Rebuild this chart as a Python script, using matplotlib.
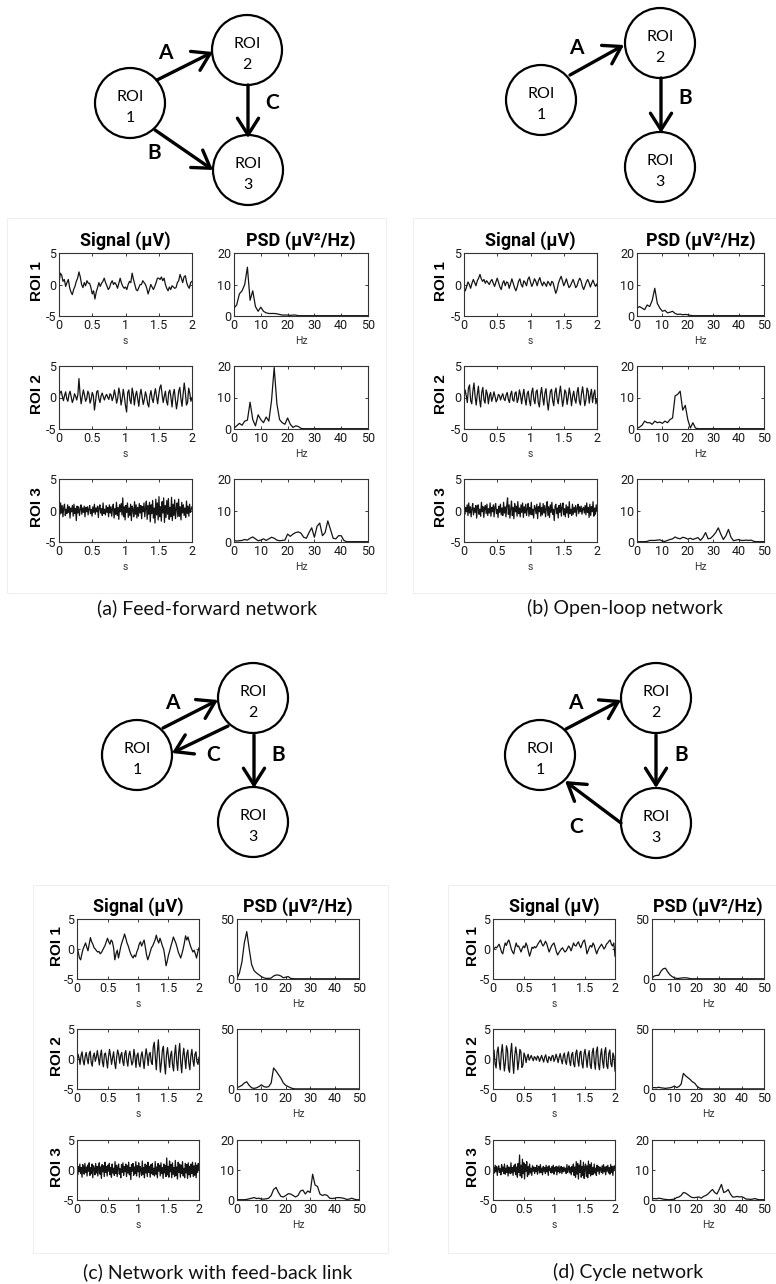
import numpy as np
import matplotlib.pyplot as plt
from matplotlib import font_manager
from matplotlib.patches import Circle, Rectangle

plt.rcParams['axes.unicode_minus'] = False

W, H = 776, 1284
installed = {f.name for f in font_manager.fontManager.ttflist}
narrow_face = 'Liberation Sans Narrow' if 'Liberation Sans Narrow' in installed else 'Roboto'
NARROW = [narrow_face, 'DejaVu Sans']
ARIAL = ['Liberation Sans', 'DejaVu Sans']
CAL = ['Lato', 'DejaVu Sans']

# ---------------------------------------------------------------- signals (uV)
a_sig1 = [0.2, 1.8, 1.5, 0.5, 0.8, -0.3, 0.3, 0.8, -0.5, -1.2, -1.6, -0.8, -0.3, 0.5, 1.0, 2.0, 1.2, 0.0, -0.5, 0.3,
          -0.2, 0.6, 0.2, 0.2, -0.5, -1.5, -1.0, -2.3, -1.2, -0.5, 0.3, -0.3, 0.2, 0.5, 1.0, 0.3, -0.2, -0.8, -0.5, 0.2,
          0.6, 0.0, 0.3, 0.0, -0.6, 0.2, 1.0, 0.2, -0.3, -0.6, -0.4, -0.8, 0.0, 0.5, 0.3, 1.8, 0.8, 0.0, -0.8, -1.0,
          -0.5, 0.0, 0.0, 0.6, 0.3, 0.0, -0.6, -1.5, -0.8, 0.0, -0.4, -0.8, -0.3, 0.3, 1.0, 1.0, 0.8, 1.2, 0.6, 1.0,
          0.0, -0.6, -1.0, -0.4, -0.8, -0.2, -0.4, -0.6, -0.5, 0.3, 0.6, 1.6, 1.0, 0.3, 1.2, 1.4, 0.3, -0.3, -0.6, 0.3, 0.5]
a_sig2 = [0.0, 0.8, 1.0, 0.2, -0.5, 0.3, 0.9, -0.2, -0.6, 0.5, 1.0, 0.1, -0.8, -0.3, 0.6, 0.2, -0.4, 0.4, 3.0, 0.5,
          -1.0, 0.2, 1.2, 0.4, -0.6, -0.2, 1.0, 0.6, -0.9, -0.3, 0.8, 0.3, -2.0, -0.6, 0.9, 1.1, -0.2, -0.8, 0.3, 0.7,
          0.1, -0.4, 0.2, 0.5, 0.0, -0.3, 0.6, 0.4, -0.5, 0.1, 1.2, 0.3, -0.9, -0.1, 1.5, 0.6, -1.2, -0.2, 1.3, 0.1,
          -1.3, -2.3, 0.8, 1.2, -0.4, -1.0, 1.5, 0.6, -1.2, 0.3, 1.0, -0.2, -1.4, 0.4, 1.3, 0.1, -1.1, -0.3, 0.9, 0.2,
          -1.0, -1.5, 0.3, 1.1, -0.2, -0.8, 0.5, 1.4, 0.2, -1.0, 0.4, 1.6, 2.0, 0.5, -0.8, 0.2, 1.0, -0.6, -1.2, 0.8,
          1.2, 0.0, -1.5, 0.5, 1.3, -0.3, -1.8, -0.6, 1.0, 1.6, -0.2, -1.4, 0.6, 2.3, 0.8, -1.2, -0.8, 1.5, 0.7, -0.6, 0.0]
a_sig3 = [0.3, -0.6, 1.2, -0.4, 0.8, -1.0, 0.5, 1.0, -0.8, 0.2, -0.5, 0.9, -0.3, 0.6, -1.2, 0.4, -0.2, 0.8, -0.9, 1.0,
          -0.5, 0.3, -1.6, 0.7, -0.4, 0.6, -0.8, 0.2, 0.9, -0.6, 0.4, -0.3, 0.7, -1.0, 0.5, -0.2, 0.6, -0.7, 0.3, 0.8,
          -0.5, 0.2, -0.9, 0.6, -0.3, 1.0, -0.6, 0.4, -0.2, 0.7, -1.1, 0.5, 0.9, -0.4, 0.3, -0.8, 1.2, -0.5, 0.2, -0.7,
          0.8, -0.3, 0.5, -1.0, 0.9, -0.4, 0.6, -0.9, 0.4, 1.0, -1.2, 0.3, -0.6, 1.3, -0.8, 0.5, -1.4, 0.9, -0.2, 1.1,
          -0.7, 2.0, -1.0, 0.6, -1.5, 0.8, -0.3, 1.2, -1.1, 0.4, -0.8, 1.0, -1.6, 0.7, 0.2, -1.0, 1.4, -0.6, 0.9, -1.2,
          0.5, -0.9, 1.1, -0.4, 0.8, -1.3, 0.6, -0.2, 1.2, -1.0, 0.4, 1.5, -1.4, 0.8, -0.6, 1.3, -1.8, 0.9, -0.5, 1.6,
          -1.2, 0.4, -2.0, 1.8, -0.7, 1.2, -1.5, 2.2, -1.0, 0.6, -1.7, 1.4, -0.4, 2.0, -1.9, 0.8, -1.1, 1.6, -0.6, 1.9,
          -1.4, 0.5, -1.0, 2.1, -1.6, 1.0, -0.8, 1.7, -1.3, 0.3, 1.2, -1.0, 1.8, -0.9, 0.6, -1.5, 1.3, -0.4, 0.9, -0.8,
          0.4, -1.1, 1.5, -0.5, 0.7, -0.9, 1.0, -0.3, 0.2, 0.6]

b_sig1 = [-0.5, -1.0, -0.3, 0.4, 0.0, -0.6, 0.2, 0.8, 0.3, -0.2, 0.6, 1.0, 1.6, 0.9, 0.5, 0.8, 0.2, 0.6, 0.3, 0.0,
          0.5, 0.8, 0.2, -0.3, 0.4, 1.0, 0.3, -0.4, -0.8, 0.2, 0.6, -0.2, 0.4, 0.3, -0.6, 0.1, 0.9, 0.2, -0.5, -1.0,
          -0.4, 0.5, 0.9, 0.0, -0.4, 0.6, 0.3, -0.2, 0.8, 1.2, 0.4, -0.3, 0.2, 0.9, 0.5, -0.2, 0.6, 1.1, 0.3, -0.2,
          0.4, 0.1, -0.3, 0.5, 0.2, -0.2, 0.5, 0.3, -0.6, -1.4, -0.8, 0.2, 0.8, 1.3, 0.6, -0.2, 0.3, 0.9, 0.1, -0.5,
          -0.2, 0.3, 0.8, 0.2, -0.5, -0.2, 0.5, 1.0, 0.6, -0.3, -0.8, -0.2, 0.4, 0.8, 0.3, -0.4, 0.2, 0.7, 0.1, -0.3, 0.1]
b_sig2 = [0.0, 1.2, 0.3, -0.8, 1.5, 2.0, -0.5, -1.0, 1.0, 2.3, 0.2, -1.2, 0.5, 1.8, -0.3, -1.5, 0.8, 1.6, -0.4, -0.9,
          1.2, 0.6, -1.0, 0.3, 0.8, -0.6, 0.0, 0.9, 0.2, -0.7, -0.3, 0.5, 0.3, -0.4, 0.2, 0.6, -0.2, -0.5, 0.4, 0.8,
          -0.3, -0.8, 0.5, 1.0, -0.4, -0.6, 0.7, 0.9, -0.8, -0.2, 1.2, 0.4, -1.0, 0.3, 1.3, -0.2, -1.2, 0.6, 1.0, -0.5,
          -1.3, 0.8, 1.5, -0.3, -1.0, 0.9, 1.2, -0.8, -1.5, 0.5, 1.6, 0.0, -1.2, 0.7, 1.4, -0.6, -2.0, -0.4, 1.0, 1.3,
          -0.5, -1.3, 0.8, 1.5, -0.2, -1.0, 0.6, 1.8, 0.2, -1.4, -0.3, 1.2, 0.8, -1.1, 0.0, 1.5, 0.4, -1.3, 0.2, 1.0,
          -0.3, -0.9, 0.8, 1.6, -0.5, -1.2, 0.6, 1.7, 0.3, -1.3, -0.4, 1.5, 1.0, -0.9, 0.4, 1.3, -0.8, 0.5, 1.2, -1.0, -0.3]
b_sig3 = [0.0, -0.6, 0.5, -0.2, 0.9, -0.8, 1.2, -0.4, 0.6, -1.0, 0.3, 1.1, -0.7, 0.4, -0.3, 0.8, -1.2, 0.5, 0.9, -0.6,
          0.2, -0.9, 1.3, -0.2, 0.6, -1.1, 0.4, 0.8, -0.5, 1.0, -0.8, 0.3, -0.4, 1.2, -0.9, 0.5, -0.2, 0.9, -1.0, 0.6,
          1.1, -0.5, 0.2, -1.1, 0.7, -0.3, 1.0, -0.7, 0.4, -0.8, 1.3, -0.4, 0.6, -1.0, 0.8, 2.0, -0.6, 0.9, -1.2, 0.3,
          1.5, -0.8, 0.5, -1.3, 1.1, -0.2, 0.7, -0.9, 1.4, -0.5, 0.4, -1.0, 0.9, -0.3, 1.2, -1.1, 0.6, -0.4, 1.0, -0.8,
          0.3, 1.1, -0.9, 0.5, -0.6, 1.3, -0.7, 0.2, -1.2, 0.8, 0.4, -0.5, 1.0, -1.3, 0.6, -0.2, 1.2, -0.9, 0.5, -0.7,
          1.1, -0.4, 0.8, -1.0, 0.3, 1.4, -0.8, 0.6, -1.1, 0.9, -0.3, 1.3, -0.6, 0.2, -1.6, 0.7, 1.0, -0.5, 0.4, -1.2,
          0.8, -0.3, 1.1, -0.9, 0.5, 1.2, -0.7, 0.3, -1.0, 0.9, -0.4, 0.6, -1.1, 1.4, -0.5, 0.2, -0.8, 1.0, -0.6, 0.5,
          -0.3, 0.8, -0.9, 0.4, 1.0, -0.5, 0.6, -0.2, 0.7, -0.6, 0.3, 0.5, -0.4, 0.8, -0.7, 1.2, -0.3, 0.5, -1.1, 1.0,
          -0.8, 0.6, -0.2, 1.4, -0.9, 0.4, -0.6, 0.9, 0.0]

c_sig1 = [0.4, -0.5, -1.5, -1.8, -0.8, 0.0, 0.5, 1.0, 0.3, -0.3, 0.8, 1.9, 1.2, 0.8, 0.2, 0.0, -0.3, -0.5, -0.4, -0.8,
          -0.6, -0.2, 0.2, 0.6, 1.2, 1.8, 1.2, 0.8, 1.5, 1.2, 0.2, -1.8, -0.8, -0.2, -1.5, -0.5, 0.5, 1.2, 1.8, 2.5,
          1.8, 1.0, 0.5, -0.2, -0.8, -1.2, -1.5, -1.0, -1.3, -0.5, 0.0, 0.8, 1.2, 0.5, 1.0, 1.5, 0.3, -1.0, -1.8, -1.2,
          -0.5, 0.2, 0.5, 1.0, 1.5, 2.3, 1.5, 1.0, 1.8, 1.2, 0.5, 0.0, -1.2, -2.8, -2.0, -1.0, -0.3, 0.5, 1.2, 2.0,
          1.5, 1.0, 0.3, -0.5, -1.0, -1.5, -0.8, 0.0, 1.0, 2.2, 1.5, 2.0, 1.2, 0.5, 0.0, -0.5, -0.2, -0.8, -1.5, -0.5, 0.2]
c_sig2 = [-0.5, 0.8, 0.2, -0.9, 0.6, 1.2, -0.3, -1.0, 0.4, 1.1, 0.0, -0.8, 0.9, 1.3, -0.6, -1.2, 0.5, 1.0, -0.4, 0.3,
          1.4, 0.2, -1.0, 0.6, 1.5, -0.5, -1.3, 0.8, 1.0, -0.2, -1.5, 0.4, 1.6, 0.5, -0.9, 0.2, 1.2, -0.6, -1.6, 0.3,
          1.5, 0.8, -0.7, 0.6, 1.1, -0.4, -1.1, 0.9, 1.4, -0.3, -1.2, 0.7, 1.3, 0.1, -1.0, -0.5, 1.6, 0.4, -1.4, 0.6,
          1.0, -0.8, -1.3, 0.5, 1.2, -0.2, -1.6, 0.3, 1.7, 0.6, -1.1, 0.8, 1.1, -0.5, -0.9, 2.0, 2.8, 0.4, -1.8, 1.0,
          3.2, 0.5, -2.2, -0.6, 1.5, 2.1, -0.8, -2.5, 0.7, 1.9, 0.3, -1.4, 0.6, 1.3, -1.0, -2.0, 0.8, 2.3, -0.4, -1.9,
          1.0, 2.6, -0.6, -2.3, 0.4, 1.8, 0.2, -1.6, 0.9, 1.5, -0.7, -1.8, 0.5, 1.6, -0.2, -1.2, 0.8, 1.2, -0.5, -0.9, 0.3]
c_sig3 = [0.2, -0.8, 0.6, -0.3, 1.0, -0.6, 0.4, -1.2, 0.9, 0.3, -0.7, 1.1, -0.4, 0.5, -1.0, 0.8, -0.2, 1.2, -0.9, 0.4,
          -0.6, 1.0, -1.3, 0.7, 0.2, -0.8, 1.1, -0.5, 0.6, -1.0, 0.3, 1.2, -0.7, 0.5, -1.4, 0.9, -0.3, 0.7, -1.1, 1.3,
          -0.4, 0.6, -1.0, 0.8, -0.2, 1.1, -0.8, 0.4, -1.2, 1.0, -0.5, 0.3, -0.9, 1.4, -0.6, 0.8, -1.1, 0.5, 1.0, -0.7,
          0.2, -1.3, 0.9, -0.4, 1.2, -0.9, 0.6, -0.3, 1.0, -1.1, 0.7, -0.5, 1.3, -0.8, 0.4, -1.6, 0.9, -0.2, 1.1, -0.9,
          0.5, -0.6, 1.4, -1.0, 0.7, -0.3, 1.2, -1.2, 0.6, 0.2, -0.9, 1.5, -0.7, 0.4, -1.3, 1.0, -0.5, 0.8, -1.1, 1.3,
          -0.4, 0.6, -1.2, 0.9, -0.6, 1.1, -0.8, 0.3, -1.0, 1.4, -0.7, 0.5, -1.3, 1.1, -0.2, 0.8, -1.0, 1.2, -0.6, 0.4,
          -1.4, 1.0, -0.5, 0.7, -1.1, 2.0, -0.8, 0.6, -1.2, 1.5, -0.3, 0.9, -1.3, 1.2, -0.7, 0.4, -1.1, 1.6, -0.9, 0.5,
          -1.5, 1.3, -0.4, 1.0, -1.2, 0.8, -0.6, 1.4, -1.0, 0.3, -1.3, 1.1, -0.5, 0.9, -1.4, 1.2, -0.8, 0.6, -1.2, 1.0,
          -0.6, 1.3, -1.1, 0.7, -0.9, 1.2, -1.3, 0.8, -0.4, 1.1, 0.0]

d_sig1 = [0.0, 0.1, 0.3, 0.2, 0.5, 0.8, 0.2, -0.5, -0.8, 0.2, 1.0, 0.6, 1.2, 1.5, 0.8, 0.0, -0.5, -0.8, 0.2, 1.0,
          0.4, 0.5, 0.0, -0.5, 0.1, 0.5, 0.2, 1.0, 0.5, -0.4, -1.2, -0.5, 0.3, 0.1, 0.4, 0.2, 0.5, 0.9, 1.2, 1.5,
          0.9, 0.5, 0.8, 1.3, 0.9, 0.2, -0.5, 0.0, 0.5, 0.8, 1.0, 0.3, -0.5, -1.0, -0.6, -0.3, 0.0, 0.2, -0.2, -0.5,
          -0.3, 0.1, 0.5, 0.2, -0.3, 0.3, 1.0, 0.6, 0.5, 0.9, 1.2, 0.6, 0.2, 0.8, 1.3, 1.5, 0.5, -0.8, -0.3, 0.3,
          0.6, 0.3, 1.0, 0.6, -0.2, -0.8, -0.2, 0.2, 0.5, 0.8, 0.4, 0.0, 0.3, 0.8, 1.0, 1.3, 1.5, 0.8, 0.5, 1.0, -1.2]
d_sig2 = [0.0, 1.5, -0.8, -1.5, 1.2, 2.0, -0.5, -1.8, 1.0, 2.4, 0.2, -2.0, -0.6, 2.2, 1.5, -1.6, -2.2, 1.0, 2.6, -0.3,
          -2.4, 0.5, 2.0, 0.8, -1.8, -0.4, 1.6, 1.2, -1.4, -1.0, 1.0, 0.5, -0.6, 0.3, 0.8, -0.2, 0.2, 0.6, 0.1, -0.3,
          0.4, 0.2, -0.2, 0.5, 0.3, -0.4, 0.1, 0.6, 0.0, -0.5, 0.3, 0.7, -0.2, -0.6, 0.4, 0.2, -0.3, 0.5, 0.6, -0.4,
          0.0, 0.8, 0.2, -0.6, 0.3, 0.9, -0.1, -0.8, 0.5, 1.0, -0.4, -0.9, 0.6, 1.2, -0.3, -1.1, 0.7, 1.1, -0.8, -1.3,
          0.9, 1.5, -0.2, -1.2, 1.0, 1.3, -0.7, -1.5, 0.8, 1.6, 0.2, -1.4, 0.5, 1.4, -1.0, -1.6, 1.1, 1.8, -0.5, -1.7,
          1.3, 2.0, -0.9, -1.8, 0.6, 1.7, -0.4, -1.5, 1.2, 1.9, -1.1, -1.6, 0.9, 1.5, -0.8, -1.3, 1.0, 0.4, -2.0]
d_sig3 = [0.0, 0.4, -0.5, 0.8, -0.3, 0.6, -0.9, 0.3, 0.7, -0.4, 0.2, -0.8, 0.9, -0.2, 0.5, -0.6, 1.0, -0.7, 0.3, -0.4,
          0.8, -1.0, 0.5, 0.2, -0.6, 1.2, -0.5, 0.4, -0.9, 0.7, -0.3, 1.0, -0.8, 0.5, -1.2, 1.1, -0.4, 2.5, -1.0, 0.8,
          -1.3, 1.8, -0.6, 1.2, -1.5, 0.9, -0.2, 1.4, -1.1, 0.6, -0.8, 1.0, -0.5, 0.3, -0.9, 0.7, -0.2, 0.5, -0.6, 0.4,
          -0.3, 0.8, -0.7, 0.2, 0.6, -0.5, 0.9, -0.4, 0.3, -0.8, 0.6, -0.2, 0.4, -0.6, 0.8, -0.3, 0.5, -0.9, 0.7, -0.1,
          0.3, -0.5, 0.6, -0.4, 0.8, -0.7, 0.4, -0.2, 0.6, -0.8, 0.5, -0.3, 0.7, -0.5, 0.2, 0.6, -0.6, 0.4, -0.3, 0.5,
          -0.2, 0.3, -0.6, 0.9, -0.4, 0.2, 0.7, -0.5, 0.4, -0.8, 0.6, -0.3, 1.0, -0.9, 0.5, -1.2, 1.4, -0.7, 1.1, -1.5,
          0.8, -0.4, 1.6, -1.2, 0.6, -0.9, 1.3, -1.4, 0.5, 1.0, -1.1, 0.7, -1.3, 1.5, -0.6, 0.9, -1.0, 1.2, -0.8, 0.4,
          -0.7, 1.0, -0.5, 0.3, -0.9, 0.8, -0.2, 0.6, -0.7, 0.5, 0.2, -0.4, 0.7, -0.6, 0.9, -0.3, 0.5, -0.8, 0.6, -0.2,
          0.8, -0.5, 0.4, -0.7, 0.9, -0.4, 0.6, -0.9, 0.3, 0.7, 0.0]

# ---------------------------------------------------------------- PSD (uV^2/Hz), 1 Hz bins 0..50
a_psd1 = [2.5, 3.5, 7, 8, 10, 15.5, 5, 8, 3, 1.5, 2.8, 1.5, 1, 0.8, 0.8, 0.8, 0.7, 0.5, 0.3, 0.3,
          0.3, 0.2, 0.3, 0.3, 0.1, 0.1, 0.1, 0.1, 0.1, 0.1, 0.1, 0.1, 0.1, 0.1, 0.1, 0.1, 0.1, 0.1, 0.1, 0.1,
          0.1, 0.1, 0.1, 0.1, 0.1, 0.1, 0.1, 0.1, 0.1, 0.1, 0.1]
a_psd2 = [0.3, 1, 1.8, 1.2, 2.5, 2.8, 8.5, 3, 1, 4.5, 3, 2, 3.8, 2.5, 9, 19.5, 8, 3, 2, 1.5,
          3.5, 1.5, 0.5, 1, 0.8, 0.2, 0.1, 0.1, 0.1, 0.1, 0.1, 0.1, 0.1, 0.1, 0.1, 0.1, 0.1, 0.1, 0.1, 0.1,
          0.1, 0.1, 0.1, 0.1, 0.1, 0.1, 0.1, 0.1, 0.1, 0.1, 0.1]
a_psd3 = [0.5, 0.3, 0.4, 0.5, 0.8, 0.6, 1.2, 1.6, 1, 0.4, 0.6, 1, 0.5, 1, 1.5, 1.2, 0.6, 0.4, 0.5, 0.6,
          2.5, 1.8, 2.5, 3, 3.2, 2.8, 1.5, 1.2, 3, 4.5, 1.5, 5, 6, 2, 3, 6.7, 4, 1.2, 1, 2,
          2, 0.5, 0.1, 0.1, 0.1, 0.1, 0.1, 0.1, 0.1, 0.1, 0.1]

b_psd1 = [2.5, 3, 2.5, 2, 3.5, 3, 5, 8.8, 4, 2.5, 1.5, 1.8, 1, 1.2, 1.5, 0.8, 0.5, 0.6, 0.4, 0.5,
          0.4, 0.2, 0.1, 0.1, 0.1, 0.1, 0.1, 0.1, 0.1, 0.1, 0.1, 0.1, 0.1, 0.1, 0.1, 0.1, 0.1, 0.1, 0.1, 0.1,
          0.1, 0.1, 0.1, 0.1, 0.1, 0.1, 0.1, 0.1, 0.1, 0.1, 0.1]
b_psd2 = [0.2, 0.6, 1.2, 2.5, 2, 2, 1.5, 2.5, 2, 2.2, 1.8, 2.5, 2, 3, 3.5, 10.5, 11, 12, 6, 7.5,
          3, 0.3, 2, 0.3, 0.1, 0.1, 0.1, 0.1, 0.1, 0.1, 0.1, 0.1, 0.1, 0.1, 0.1, 0.1, 0.1, 0.1, 0.1, 0.1,
          0.1, 0.1, 0.1, 0.1, 0.1, 0.1, 0.1, 0.1, 0.1, 0.1, 0.1]
b_psd3 = [0.1, 0.1, 0.1, 0.1, 0.2, 0.5, 0.5, 0.5, 0.6, 0.7, 0.3, 0.2, 0.5, 0.8, 1, 1.6, 1.2, 1, 1.5, 1.3,
          0.9, 1.2, 0.8, 1.1, 1.4, 0.5, 1.5, 3, 1, 1.2, 2, 3, 4.5, 2.5, 0.8, 2, 4, 1.5, 0.4, 0.6,
          0.8, 0.5, 0.5, 0.6, 0.5, 0.6, 0.2, 0.1, 0.1, 0.1, 0.1]

c_psd1 = [0.5, 5, 14, 30, 39.5, 25, 12, 7, 5, 3.5, 2, 1, 0.5, 0.5, 0.8, 2.5, 3.3, 3.3, 2.5, 1,
          1.5, 2, 0.5, 0.3, 0.2, 0.2, 0.2, 0.2, 0.2, 0.2, 0.2, 0.2, 0.2, 0.2, 0.2, 0.2, 0.2, 0.2, 0.2, 0.2,
          0.2, 0.2, 0.2, 0.2, 0.2, 0.2, 0.2, 0.2, 0.2, 0.2, 0.2]
c_psd2 = [1, 2, 3, 5, 6, 3, 1, 0.5, 1, 2, 3.5, 2, 1.5, 2, 5, 17.5, 15, 12, 9, 5,
          3, 2, 1, 0.3, 0.1, 0.1, 0.1, 0.1, 0.1, 0.1, 0.1, 0.1, 0.1, 0.1, 0.1, 0.1, 0.1, 0.1, 0.1, 0.1,
          0.1, 0.1, 0.1, 0.1, 0.1, 0.1, 0.1, 0.1, 0.1, 0.1, 0.1]
c_psd3 = [0.1, 0.1, 0.1, 0.1, 0.2, 0.4, 0.6, 0.8, 0.5, 0.6, 0.3, 0.3, 0.4, 0.6, 1.5, 3.5, 4.2, 2.5, 1.2, 1,
          1.5, 2.1, 2, 1.5, 1, 1.5, 3, 3.3, 2, 3, 2.5, 8.6, 5, 4.5, 2, 1.5, 1.8, 1.5, 0.6, 0.5,
          0.6, 0.8, 0.8, 0.7, 0.5, 0.2, 0.3, 0.6, 0.3, 0.1, 0.1]

d_psd1 = [0.5, 2.5, 3, 3, 6.5, 8.5, 9, 6, 3.5, 2, 1, 0.5, 0.5, 0.8, 1, 1, 0.8, 0.3, 0.2, 0.2,
          0.2, 0.2, 0.2, 0.2, 0.2, 0.2, 0.2, 0.2, 0.2, 0.2, 0.2, 0.2, 0.2, 0.2, 0.2, 0.2, 0.2, 0.2, 0.2, 0.2,
          0.2, 0.2, 0.2, 0.2, 0.2, 0.2, 0.2, 0.2, 0.2, 0.2, 0.2]
d_psd2 = [1, 1.2, 1, 1.5, 1, 0.8, 0.5, 0.8, 1, 1.5, 2.5, 1.2, 2, 4, 13, 11, 9.5, 8, 6, 5,
          2.5, 1, 0.3, 0.1, 0.1, 0.1, 0.1, 0.1, 0.1, 0.1, 0.1, 0.1, 0.1, 0.1, 0.1, 0.1, 0.1, 0.1, 0.1, 0.1,
          0.1, 0.1, 0.1, 0.1, 0.1, 0.1, 0.1, 0.1, 0.1, 0.1, 0.1]
d_psd3 = [0.4, 0.5, 0.4, 0.6, 0.5, 0.3, 0.2, 0.1, 0.1, 0.2, 0.3, 0.8, 1, 1.5, 2.5, 2.3, 1.8, 1.2, 0.8, 0.8,
          0.9, 1, 0.6, 1.2, 1.5, 2, 2.8, 3.5, 2.5, 2, 3.5, 5.2, 2.5, 2.8, 3.5, 2, 1, 1, 1.2, 1,
          1.1, 0.8, 0.3, 0.3, 0.2, 0.3, 0.5, 0.2, 0.1, 0.1, 0.1]

psd_ymax = {'a': [20, 20, 20], 'b': [20, 20, 20], 'c': [50, 50, 20], 'd': [50, 50, 20]}
captions = {'a': '(a) Feed-forward network', 'b': '(b) Open-loop network',
            'c': '(c) Network with feed-back link', 'd': '(d) Cycle network'}

signals = {'a': [a_sig1, a_sig2, a_sig3], 'b': [b_sig1, b_sig2, b_sig3],
           'c': [c_sig1, c_sig2, c_sig3], 'd': [d_sig1, d_sig2, d_sig3]}
psds = {'a': [a_psd1, a_psd2, a_psd3], 'b': [b_psd1, b_psd2, b_psd3],
        'c': [c_psd1, c_psd2, c_psd3], 'd': [d_psd1, d_psd2, d_psd3]}

# ---------------------------------------------------------------- layout (pixels)
# sig x-range, psd x-range, row tops, row height, ROI label x, frame box, caption pos
layout = {
    'a': dict(sx=(59, 192), px=(234, 368), tops=(253, 366, 479), h=63, lx=37,
              frame=(7, 218, 386, 593), cap=(207, 608)),
    'b': dict(sx=(464, 597), px=(637, 764), tops=(253, 366, 479), h=63, lx=441,
              frame=(413, 218, 780, 593), cap=(625, 608)),
    'c': dict(sx=(77, 199), px=(237, 359), tops=(919, 1029, 1140), h=60, lx=57,
              frame=(33, 885, 388, 1253), cap=(218, 1272)),
    'd': dict(sx=(493, 615), px=(652, 764), tops=(919, 1029, 1140), h=60, lx=473,
              frame=(448, 885, 780, 1253), cap=(628, 1272)),
}

# network diagrams: node centres, arrows (start, end) and edge labels
networks = {
    'a': dict(nodes=[(130, 103), (247, 50), (248, 170)],
              edges=[((157, 80), (213, 52), 'A', (165, 53)),
                     ((248, 85), (248, 138), 'C', (272, 103)),
                     ((155, 130), (213, 170), 'B', (154, 153))]),
    'b': dict(nodes=[(541, 100), (660, 43), (660, 167)],
              edges=[((570, 75), (624, 45), 'A', (576, 48)),
                     ((661, 78), (661, 133), 'B', (685, 98))]),
    'c': dict(nodes=[(137, 755), (253, 698), (253, 822)],
              edges=[((163, 728), (218, 700), 'A', (172, 703)),
                     ((228, 726), (172, 753), 'C', (213, 755)),
                     ((254, 735), (254, 788), 'B', (278, 755))]),
    'd': dict(nodes=[(540, 755), (656, 698), (656, 823)],
              edges=[((566, 729), (621, 700), 'A', (575, 703)),
                     ((656, 735), (656, 788), 'B', (681, 755)),
                     ((621, 823), (565, 781), 'C', (576, 827))]),
}
R = 35
LINE = '#141414'

fig = plt.figure(figsize=(W / 100, H / 100), dpi=100)
bg = fig.add_axes([0, 0, 1, 1])
bg.set_xlim(0, W)
bg.set_ylim(H, 0)
bg.axis('off')


def px_axes(x0, x1, top, h):
    return fig.add_axes([x0 / W, 1 - (top + h) / H, (x1 - x0) / W, h / H])


def style(ax):
    ax.tick_params(direction='in', length=2.5, width=0.6, top=True, right=True,
                   labelsize=9, pad=2, colors='#1a1a1a')
    for lab in ax.get_xticklabels() + ax.get_yticklabels():
        lab.set_family(NARROW)
    for sp in ax.spines.values():
        sp.set_linewidth(0.8)
        sp.set_color('#333333')


for key in 'abcd':
    L = layout[key]
    fx0, fy0, fx1, fy1 = L['frame']
    bg.add_patch(Rectangle((fx0, fy0), fx1 - fx0, fy1 - fy0, fill=False,
                           ec='#efefef', lw=0.8))
    bg.text(L['cap'][0], L['cap'][1], captions[key], family=CAL, fontsize=14,
            ha='center', va='center', color='#111111')

    for i in range(3):
        top = L['tops'][i]
        sig = np.array(signals[key][i])
        t = np.linspace(0, 2, len(sig))
        ax = px_axes(L['sx'][0], L['sx'][1], top, L['h'])
        ax.plot(t, sig, color=LINE, lw=0.9)
        ax.set_xlim(0, 2)
        ax.set_ylim(-5, 5)
        ax.set_xticks([0, 0.5, 1, 1.5, 2])
        ax.set_xticklabels(['0', '0.5', '1', '1.5', '2'])
        ax.set_yticks([-5, 0, 5])
        ax.set_yticklabels(['-5', '0', '5'])
        ax.set_xlabel('s', family=NARROW, fontsize=7.5, labelpad=3, color='#333333')
        style(ax)
        if i == 0:
            ax.set_title('Signal (\u03bcV)', family=NARROW, fontsize=13, fontweight='bold', pad=5)

        psd = np.array(psds[key][i])
        f = np.arange(len(psd))
        ax2 = px_axes(L['px'][0], L['px'][1], top, L['h'])
        ax2.plot(f, psd, color=LINE, lw=0.9)
        ymax = psd_ymax[key][i]
        ax2.set_xlim(0, 50)
        ax2.set_ylim(0, ymax)
        ax2.set_xticks([0, 10, 20, 30, 40, 50])
        ax2.set_yticks([0, 10, 20] if ymax == 20 else [0, 50])
        ax2.set_xlabel('Hz', family=NARROW, fontsize=7.5, labelpad=3, color='#333333')
        style(ax2)
        if i == 0:
            ax2.set_title('PSD (\u03bcV\u00b2/Hz)', family=NARROW, fontsize=13, fontweight='bold', pad=5)

        bg.text(L['lx'], top + L['h'] / 2 - 3, 'ROI %d' % (i + 1), family=ARIAL,
                fontweight='bold', fontsize=11, rotation=90, ha='center', va='center')

    net = networks[key]
    for n, (cx, cy) in enumerate(net['nodes']):
        bg.add_patch(Circle((cx, cy), R, fill=False, ec='black', lw=1.6))
        bg.text(cx, cy - 6, 'ROI', family=CAL, fontsize=11.5, ha='center', va='center')
        bg.text(cx, cy + 15, str(n + 1), family=CAL, fontsize=11.5, ha='center', va='center')
    for start, end, name, lpos in net['edges']:
        bg.annotate('', xy=end, xytext=start,
                    arrowprops=dict(arrowstyle='->,head_length=0.6,head_width=0.38',
                                    lw=2.4, color='black', shrinkA=0, shrinkB=0,
                                    mutation_scale=20))
        bg.text(lpos[0], lpos[1], name, family=CAL, fontweight='bold', fontsize=15,
                ha='center', va='center')

fig.savefig('out.png', dpi=100, facecolor='white')
